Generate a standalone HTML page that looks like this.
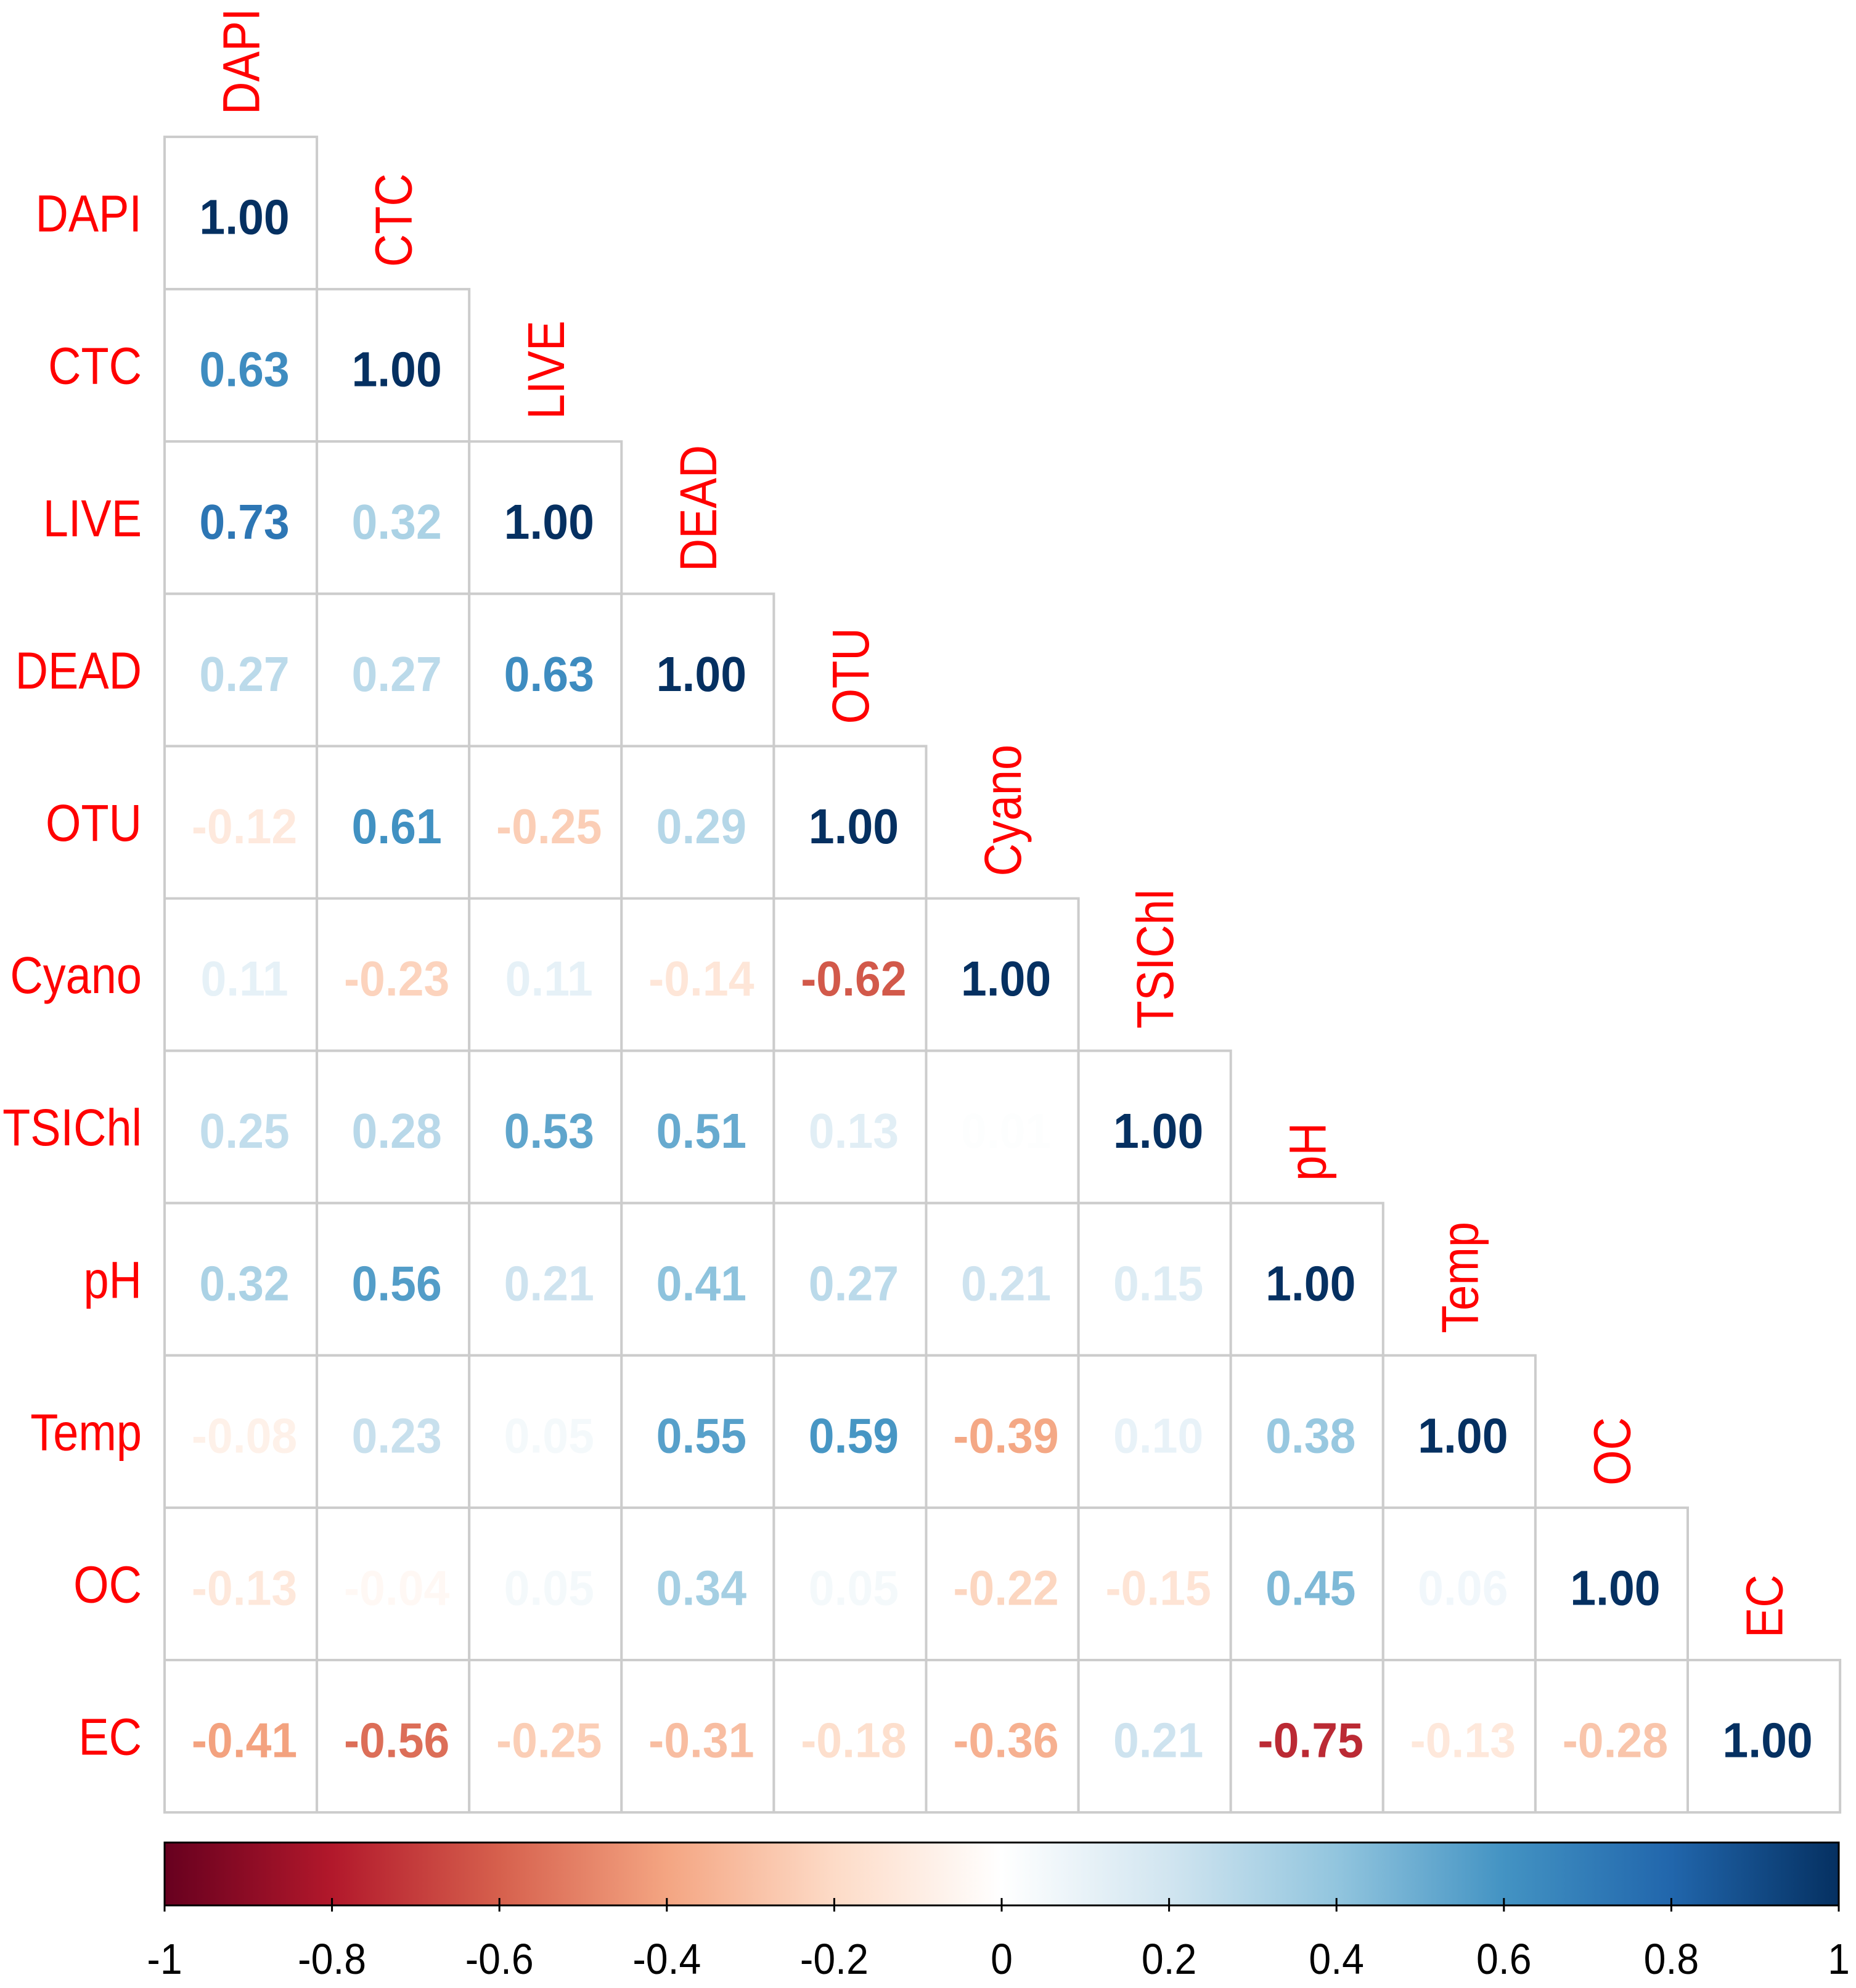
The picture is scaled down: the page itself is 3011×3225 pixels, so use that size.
<!DOCTYPE html>
<html><head><meta charset="utf-8"><style>html,body{margin:0;padding:0;background:#fff}svg{display:block}</style></head>
<body>
<svg id="chart" width="3011" height="3225" xmlns="http://www.w3.org/2000/svg">
<defs><linearGradient id="rdbu" x1="0" x2="1" y1="0" y2="0">
<stop offset="0" stop-color="#67001F"/><stop offset="0.1" stop-color="#B2182B"/><stop offset="0.2" stop-color="#D6604D"/><stop offset="0.3" stop-color="#F4A582"/><stop offset="0.4" stop-color="#FDDBC7"/><stop offset="0.5" stop-color="#FFFFFF"/><stop offset="0.6" stop-color="#D1E5F0"/><stop offset="0.7" stop-color="#92C5DE"/><stop offset="0.8" stop-color="#4393C3"/><stop offset="0.9" stop-color="#2166AC"/><stop offset="1" stop-color="#053061"/>
</linearGradient></defs>
<g id="cells"></g><g id="labels"></g><g id="bar"></g>
</svg>
<script>
const variables = ["DAPI","CTC","LIVE","DEAD","OTU","Cyano","TSIChl","pH","Temp","OC","EC"];
const corrRows = [
 [1],
 [0.63,1],
 [0.73,0.32,1],
 [0.27,0.27,0.63,1],
 [-0.12,0.61,-0.25,0.29,1],
 [0.11,-0.23,0.11,-0.14,-0.62,1],
 [0.25,0.28,0.53,0.51,0.13,0.01,1],
 [0.32,0.56,0.21,0.41,0.27,0.21,0.15,1],
 [-0.08,0.23,0.05,0.55,0.59,-0.39,0.10,0.38,1],
 [-0.13,-0.04,0.05,0.34,0.05,-0.22,-0.15,0.45,0.06,1],
 [-0.41,-0.56,-0.25,-0.31,-0.18,-0.36,0.21,-0.75,-0.13,-0.28,1]
];
const colorbarTicks = [-1,-0.8,-0.6,-0.4,-0.2,0,0.2,0.4,0.6,0.8,1];
const tickLabels = ["-1","-0.8","-0.6","-0.4","-0.2","0","0.2","0.4","0.6","0.8","1"];

const NS="http://www.w3.org/2000/svg";
const L=267,T=222,C=247.1,BX0=267,BX1=2983,BY=2989,BH=102;
const stops=[[103,0,31],[178,24,43],[214,96,77],[244,165,130],[253,219,199],[255,255,255],[209,229,240],[146,197,222],[67,147,195],[33,102,172],[5,48,97]];
function color(v){let t=(v+1)/2*10;let i=Math.min(9,Math.floor(t));let f=t-i;const a=stops[i],b=stops[i+1];
 return "rgb("+a.map((x,k)=>Math.round(x+(b[k]-x)*f)).join(",")+")";}
function xs(j){return L+j*C;} function ys(i){return T+i*C;}
function bx(v){return BX0+(v+1)/2*(BX1-BX0);}
function mk(tag,attrs,parent){const e=document.createElementNS(NS,tag);for(const k in attrs)e.setAttribute(k,attrs[k]);parent.appendChild(e);return e;}
const gc=document.getElementById("cells"),gl=document.getElementById("labels"),gb=document.getElementById("bar");
corrRows.forEach((row,i)=>{row.forEach((v,j)=>{
 const r=mk("rect",{x:xs(j),y:ys(i),width:C,height:C,fill:"#fff",stroke:"#cccccc","stroke-width":4},gc);
 
 
});});
corrRows.forEach((row,i)=>{row.forEach((v,j)=>{
 const t=mk("text",{transform:"translate("+(xs(j)+C/2+6)+","+(ys(i)+C/2+34)+") scale(0.94,1)","text-anchor":"middle","font-family":"Liberation Sans, sans-serif","font-weight":"bold","font-size":80,fill:color(v)},gc);
 t.textContent=v.toFixed(2);
 
 
});});
variables.forEach((n,i)=>{
 const t=mk("text",{transform:"translate(230,"+(ys(i)+C/2+30)+") scale(0.88,1)","text-anchor":"end","font-family":"Liberation Sans, sans-serif","font-size":84,fill:"#FF0000"},gl);
 t.textContent=n;
 
 
 const c=mk("text",{transform:"translate("+(xs(i)+C/2+30)+","+(ys(i)-36)+") rotate(-90) scale(0.88,1)","text-anchor":"start","font-family":"Liberation Sans, sans-serif","font-size":84,fill:"#FF0000"},gl);
 c.textContent=n;
 
 
});
const bar=mk("rect",{x:BX0,y:BY,width:BX1-BX0,height:BH,fill:"url(#rdbu)",stroke:"#000","stroke-width":3},gb);


colorbarTicks.forEach((v,k)=>{
 const ln=mk("line",{x1:bx(v),x2:bx(v),y1:BY+BH-12,y2:BY+BH+10,stroke:"#000","stroke-width":3},gb);
 
 
 const t=mk("text",{transform:"translate("+bx(v)+",3202) scale(0.92,1)","text-anchor":"middle","font-family":"Liberation Sans, sans-serif","font-size":70,fill:"#000"},gb);
 t.textContent=tickLabels[k];
 
 
});
</script>
</body></html>
